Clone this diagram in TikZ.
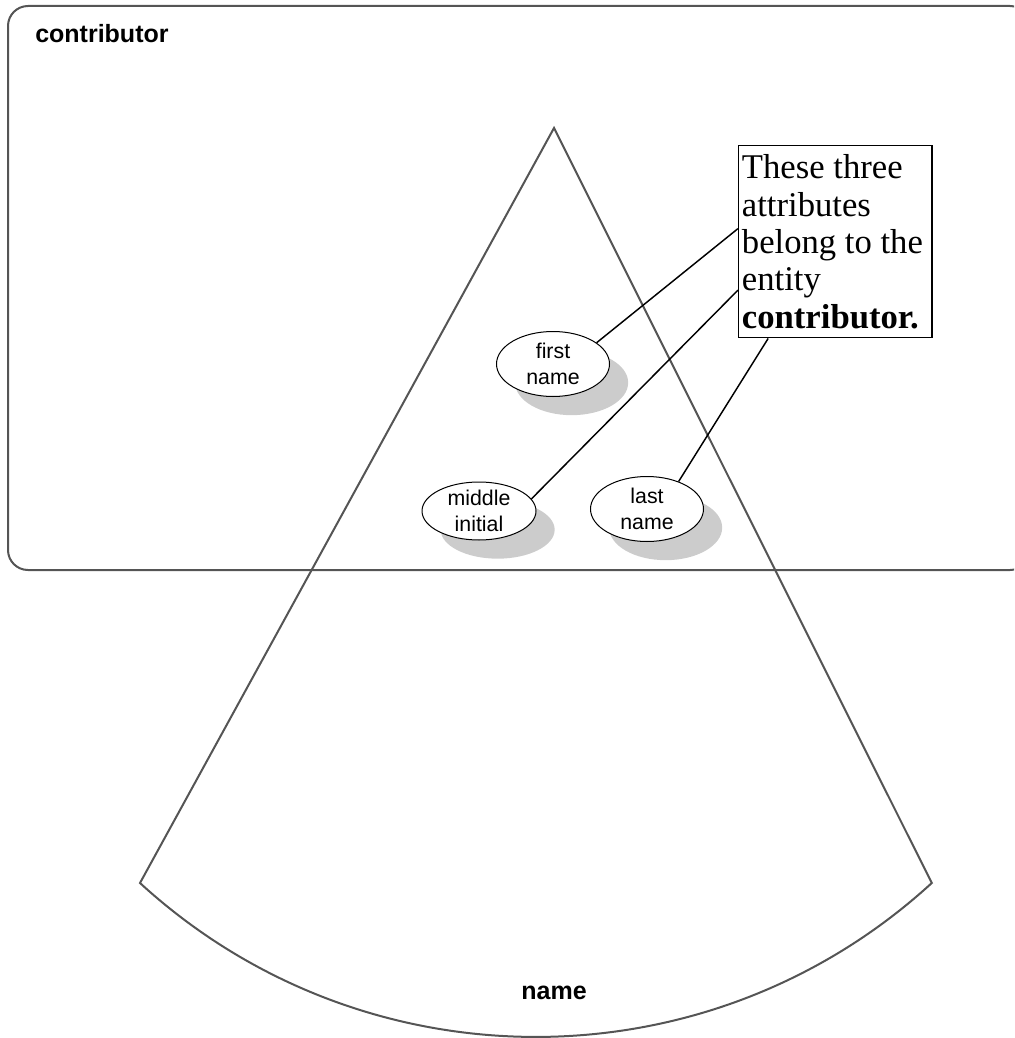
\documentclass[tikz,border=0pt]{standalone}
\usepackage{fontspec}
\setmainfont{Liberation Serif}
\setsansfont{Liberation Sans}
\usetikzlibrary{shapes.geometric,shadows,calc}
\definecolor{framegray}{HTML}{555555}
\definecolor{shadegray}{HTML}{CCCCCC}

\begin{document}
\begin{tikzpicture}[x=0.75pt,y=0.75pt,
  outline/.style={draw=framegray,line width=1.5pt,line join=miter},
  link/.style={draw=black,line width=1.1pt},
  attr/.style={ellipse,draw=black,line width=0.75pt,fill=white,inner sep=0pt,
    align=center,font=\sffamily\fontsize{16}{19}\selectfont,
    drop shadow={shadow xshift=14pt,shadow yshift=-14pt,opacity=1,fill=shadegray,draw=none}},
  boldlabel/.style={font=\sffamily\bfseries\fontsize{18.75}{22}\selectfont,inner sep=0pt},
  notebox/.style={draw=black,line width=1.1pt,anchor=north west,text width=140pt,
    inner xsep=2.4pt,inner ysep=0pt,minimum height=144pt,align=flush left,
    font=\fontsize{26}{28}\selectfont}
]
\useasboundingbox (0,0) rectangle (1014,-1038);
\clip (0,0) rectangle (1014,-1038);

% entity frame
\draw[outline,rounded corners=15pt] (8,-6) rectangle (1030,-570);
\node[boldlabel,anchor=base west] (entitylabel) at (35,-43) {contributor};

% composite attribute sector
\coordinate (apex) at (554,-128);
\coordinate (lft) at (140,-883);
\draw[outline] (apex) -- (lft) arc[start angle=227.5,end angle=312.5,radius=586] -- cycle;
\node[boldlabel] (sectorlabel) at (554,-993) {name};

% attributes
\node[attr,minimum width=84.75pt,minimum height=48.75pt] (first) at (553,-364) {first\\name};
\node[attr,minimum width=85.5pt,minimum height=43.5pt] (middle) at (479,-511) {middle\\initial};
\node[attr,minimum width=84.75pt,minimum height=48.75pt] (last) at (647,-509) {last\\name};

% annotation
\node[notebox] (note) at (738,-145) {These three\\attributes\\belong to the\\entity\\\textbf{contributor.}};

\draw[link] (first.26) -- ($(note.north west)!0.432!(note.south west)$);
\draw[link] (middle.13) -- ($(note.north west)!0.75!(note.south west)$);
\draw[link] (last.41) -- ($(note.south west)!0.155!(note.south east)$);
\end{tikzpicture}
\end{document}
